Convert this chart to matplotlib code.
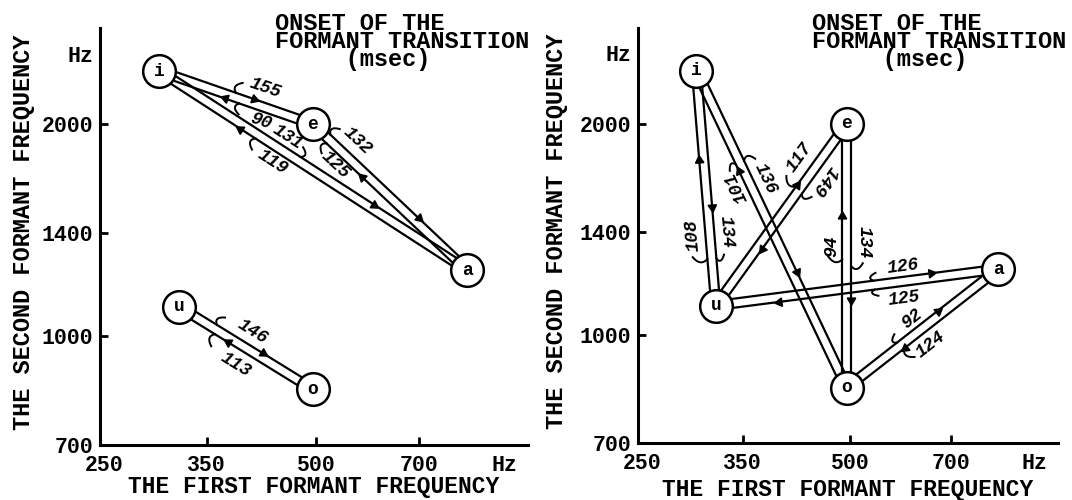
import numpy as np
import matplotlib.pyplot as plt
from matplotlib.ticker import FixedLocator, FixedFormatter, NullLocator

plt.rcParams['font.family'] = ['Liberation Mono', 'DejaVu Sans Mono']

# vowel positions: first / second formant (Hz)
vowels = ['i', 'e', 'a', 'u', 'o']
f1 = [300, 495, 820, 320, 495]
f2 = [2380, 2000, 1240, 1100, 840]

# transitions: from vowel -> to vowel, onset of formant transition (msec)
left_from = ['i', 'e', 'i', 'a', 'e', 'a', 'u', 'o']
left_to = ['e', 'i', 'a', 'i', 'a', 'e', 'o', 'u']
left_msec = [155, 90, 131, 119, 132, 125, 146, 113]

right_from = ['u', 'i', 'o', 'i', 'u', 'e', 'o', 'e', 'u', 'a', 'o', 'a']
right_to = ['i', 'u', 'i', 'o', 'e', 'u', 'e', 'o', 'a', 'u', 'a', 'o']
right_msec = [108, 134, 101, 136, 117, 149, 94, 134, 126, 125, 92, 124]

x_ticks = [250, 350, 500, 700]
y_ticks = [700, 1000, 1400, 2000]

# label layout per transition:
# (pos of label along line, label offset px, flip text, arrow pos, hook pos, hook offset px)
left_layout = [
    (0.65, 19, False, 0.61, 0.49, 12),
    (0.31, 14, False, 0.565, 0.47, 11),
    (0.39, 14, False, 0.69, 0.45, 10),
    (0.607, 15, False, 0.73, 0.68, 11.6),
    (0.206, 19, False, 0.666, 0.094, 11),
    (0.79, 14, False, 0.66, 0.89, 11),
    (0.48, 17, False, 0.61, 0.265, 11),
    (0.5, 20, False, 0.617, 0.714, 12.7),
]
right_layout = [
    (0.307, 16.8, True, 0.62, 0.2, 15),
    (0.69, 17, False, 0.58, 0.8, 8.4),
    (0.65, 13.5, True, 0.69, 0.71, 8.7),
    (0.363, 15.8, False, 0.64, 0.29, 11.4),
    (0.754, 19, False, 0.65, 0.64, 14.5),
    (0.264, 15, True, 0.677, 0.37, 10.2),
    (0.536, 14.7, False, 0.65, 0.486, 14.7),
    (0.45, 17, True, 0.67, 0.54, 12),
    (0.668, 14.4, False, 0.763, 0.56, 8),
    (0.34, 17.3, False, 0.78, 0.44, 7.1),
    (0.483, 14, False, 0.62, 0.35, 8.7),
    (0.516, 17.6, False, 0.633, 0.64, 13.6),
]

W, H = 1072, 500
R = 16.5    # circle radius (px)
GAP = 4.5   # half distance between the paired lines (px)

fig = plt.figure(figsize=(W / 100, H / 100), dpi=100)


def add_ax(x0, x1, ytop, ybot):
    return fig.add_axes([x0 / W, 1 - ybot / H, (x1 - x0) / W, (ybot - ytop) / H])


def setup(ax, ylab_x, xlab_y):
    ax.set_xscale('log')
    ax.set_yscale('log')
    ax.set_xlim(247, 1000)
    ax.set_ylim(700, 2740)
    for s in ['top', 'right']:
        ax.spines[s].set_visible(False)
    for s in ['left', 'bottom']:
        ax.spines[s].set_linewidth(2.2)
    ax.xaxis.set_major_locator(FixedLocator(x_ticks + [925]))
    ax.xaxis.set_major_formatter(FixedFormatter([str(v) for v in x_ticks] + ['Hz']))
    ax.yaxis.set_major_locator(FixedLocator(y_ticks + [2520]))
    ax.yaxis.set_major_formatter(FixedFormatter([str(v) for v in y_ticks] + ['Hz']))
    ax.xaxis.set_minor_locator(NullLocator())
    ax.yaxis.set_minor_locator(NullLocator())
    ax.tick_params(direction='in', length=6, width=2, labelsize=15.5)
    ax.tick_params(axis='x', pad=7)
    ax.tick_params(axis='y', pad=5)
    xt = ax.xaxis.get_major_ticks()
    yt = ax.yaxis.get_major_ticks()
    for t in [xt[0], xt[-1], yt[0], yt[-1]]:
        t.tick1line.set_visible(False)
    ax.set_xlabel('THE FIRST FORMANT FREQUENCY', fontsize=16.5, fontweight='bold')
    ax.set_ylabel('THE SECOND FORMANT FREQUENCY', fontsize=17, fontweight='bold')
    ax.xaxis.set_label_coords(0.5, xlab_y)
    ax.yaxis.set_label_coords(ylab_x, 0.51)
    ax.xaxis.label.set_va('center')
    ax.yaxis.label.set_va('center')
    for lab in ax.get_xticklabels() + ax.get_yticklabels():
        lab.set_fontweight('bold')


def line_pt(A, d, n, along, off):
    return A + d * along + n * off


def draw_panel(ax, froms, tos, msecs, layout):
    inv = ax.transData.inverted()
    pos = {v: ax.transData.transform((x, y)) for v, x, y in zip(vowels, f1, f2)}
    k = np.sqrt(R ** 2 - GAP ** 2)
    for fr, to, ms, (tl, off, flip, ta, th, oh) in zip(froms, tos, msecs, layout):
        A, B = pos[fr], pos[to]
        L = np.linalg.norm(B - A)
        d = (B - A) / L
        n = np.array([-d[1], d[0]])
        seg = inv.transform([A + n * GAP + d * k, B + n * GAP - d * k])
        ax.plot(seg[:, 0], seg[:, 1], color='black', lw=1.6, zorder=2)

        ang = np.degrees(np.arctan2(d[1], d[0]))
        pa = inv.transform(line_pt(A, d, n, L * ta, GAP))
        ax.plot(pa[0], pa[1], marker=(3, 0, ang - 90), ms=7, color='black', zorder=3)

        rot = ang
        while rot > 90:
            rot -= 180
        while rot <= -90:
            rot += 180
        if flip:
            rot += 180
        pl = inv.transform(line_pt(A, d, n, L * tl, off))
        ax.text(pl[0], pl[1], str(ms), rotation=rot, rotation_mode='anchor',
                ha='center', va='center', fontsize=13, fontstyle='italic',
                fontweight='bold', zorder=4)

        # small hook tying the number to its line
        sgn = 1 if th > tl else -1
        b0 = line_pt(A, d, n, L * th, GAP)
        b2 = line_pt(A, d, n, L * th - sgn * 3, oh + 4)
        c = line_pt(A, d, n, L * th + sgn * 7, (GAP + oh + 4) / 2)
        s = np.linspace(0, 1, 20)[:, None]
        curve = (1 - s) ** 2 * b0 + 2 * (1 - s) * s * c + s ** 2 * b2
        cd = inv.transform(curve)
        ax.plot(cd[:, 0], cd[:, 1], color='black', lw=1.4, zorder=3)

    ax.plot(f1, f2, 'o', ms=23.5, mfc='white', mec='black', mew=1.8, zorder=5)
    for v, x, y in zip(vowels, f1, f2):
        ax.text(x, y, v, ha='center', va='center', fontsize=13, fontweight='bold', zorder=6)


def title(x_left):
    # monospace font: the leading spaces centre "(msec)" under the line above
    fig.text(x_left / W, 1 - 12 / H, 'ONSET OF THE\nFORMANT TRANSITION\n     (msec)',
             ha='left', va='top', fontsize=17, fontweight='bold', linespacing=0.72)


axL = add_ax(100, 528, 28, 445)
axR = add_ax(638, 1058, 28, 443)
setup(axL, -0.178, -0.099)
setup(axR, -0.194, -0.111)

draw_panel(axL, left_from, left_to, left_msec, left_layout)
draw_panel(axR, right_from, right_to, right_msec, right_layout)

title(275)
title(812)

fig.savefig('out.png', dpi=100)
